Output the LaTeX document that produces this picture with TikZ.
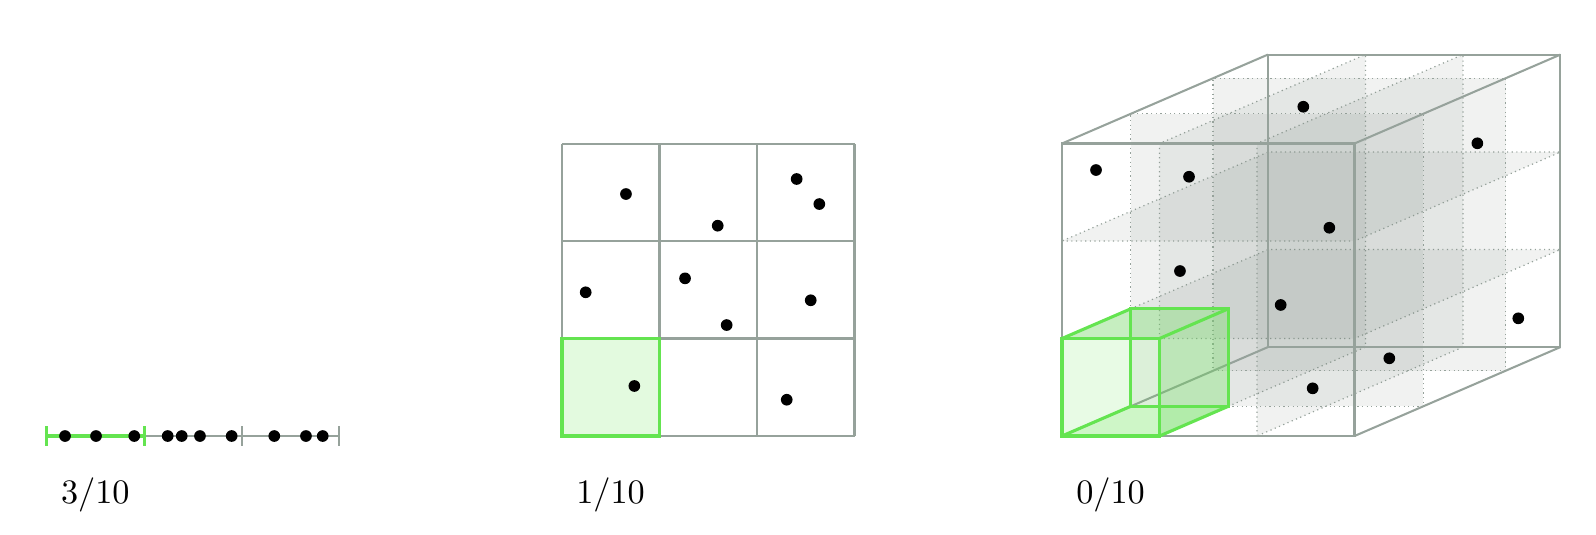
\documentclass[tikz,border=0pt]{standalone}
\usepackage{amsmath}
\usepackage{xcolor}
\usepackage{tikz}
\usetikzlibrary{positioning}

\definecolor{gridgray}{RGB}{150,162,155}
\definecolor{hitgreen}{RGB}{100,228,80}
\definecolor{slabgray}{RGB}{115,128,120}

\begin{document}
\begin{tikzpicture}[
    every node/.style={font=\normalsize},
    pt/.style={circle, fill=black, inner sep=0pt, minimum size=1.2mm},
    frame/.style={draw=gridgray, line width=0.6pt},
    hit/.style={draw=hitgreen, line width=0.9pt},
    slab/.style={fill=slabgray, fill opacity=0.1, draw=gridgray, densely dotted, line width=0.35pt},
    lbl/.style={anchor=base west, inner sep=0pt},
]
    \useasboundingbox (-5.764,-1.005) rectangle (10.605,4.472);

    % one dimension
    \begin{scope}[shift={(-5.285,0)}]
        \draw[frame, line width=0.5pt] (0,0) -- (3,0);
        \draw[hit] (0,0) -- (1,0);
        \foreach \t in {2,3} \draw[frame, line width=0.5pt] (\t,-0.1) -- (\t,0.1);
        \foreach \t in {0,1} \draw[hit] (\t,-0.1) -- (\t,0.1);
        \foreach \x [count=\i] in {0.188,0.506,0.898,1.241,1.385,1.572,1.897,2.334,2.659,2.831}
            \node[pt] (l\i) at (\x,0) {};
        \node[lbl] (lab1) at (0.14,-0.69) {$3/10$};
    \end{scope}

    % two dimensions
    \fill[hitgreen!18] (0,0) rectangle (1,1);
    \draw[frame] (0,0) grid (3,3);
    \draw[hit] (0,0) rectangle (1,1);
    \foreach \x/\y [count=\i] in {0.656/2.482, 1.597/2.157, 2.407/2.636, 2.639/2.379, 0.243/1.474,
                                  1.262/1.617, 1.689/1.138, 2.551/1.392, 0.742/0.513, 2.305/0.372}
        \node[pt] (s\i) at (\x,\y) {};
    \node[lbl] (lab2) at (0.14,-0.69) {$1/10$};

    % three dimensions
    \begin{scope}[shift={(5.128,0)}, x={(1cm,0cm)}, y={(0cm,1cm)}, z={(0.704cm,0.304cm)}]
        % inner slabs
        \foreach \d in {1,2} {
            \filldraw[slab] (\d,0,0) -- (\d,3,0) -- (\d,3,3) -- (\d,0,3) -- cycle;
            \filldraw[slab] (0,\d,0) -- (3,\d,0) -- (3,\d,3) -- (0,\d,3) -- cycle;
        }
        \foreach \d in {1,2.2}
            \filldraw[slab] (0,0,\d) -- (3,0,\d) -- (3,3,\d) -- (0,3,\d) -- cycle;
        % outer box
        \draw[frame] (0,0,0) -- (3,0,0) -- (3,3,0) -- (0,3,0) -- cycle;
        \draw[frame] (0,0,3) -- (3,0,3) -- (3,3,3) -- (0,3,3) -- cycle;
        \foreach \x/\y in {0/0,3/0,3/3,0/3}
            \draw[frame] (\x,\y,0) -- (\x,\y,3);
        % hit cell
        \fill[hitgreen, fill opacity=0.15] (0,0,0) -- (1,0,0) -- (1,1,0) -- (0,1,0) -- cycle;
        \fill[hitgreen, fill opacity=0.3] (0,1,0) -- (1,1,0) -- (1,1,1) -- (0,1,1) -- cycle;
        \fill[hitgreen, fill opacity=0.3] (1,0,0) -- (1,0,1) -- (1,1,1) -- (1,1,0) -- cycle;
        \fill[hitgreen, fill opacity=0.2] (0,0,0) -- (1,0,0) -- (1,0,1) -- (0,0,1) -- cycle;
        \draw[hit] (0,0,0) -- (1,0,0) -- (1,1,0) -- (0,1,0) -- cycle;
        \draw[hit] (0,0,1) -- (1,0,1) -- (1,1,1) -- (0,1,1) -- cycle;
        \foreach \x/\y in {0/0,1/0,1/1,0/1}
            \draw[hit] (\x,\y,0) -- (\x,\y,1);
    \end{scope}
    \foreach \x/\y [count=\i] in {5.477/2.728, 6.431/2.659, 7.603/3.377, 9.388/3.002, 7.870/2.136,
                                  6.338/1.692, 7.371/1.344, 9.808/1.207, 8.485/0.797, 7.699/0.489}
        \node[pt] (c\i) at (\x,\y) {};
    \node[lbl] (lab3) at (5.268,-0.69) {$0/10$};
\end{tikzpicture}
\end{document}
